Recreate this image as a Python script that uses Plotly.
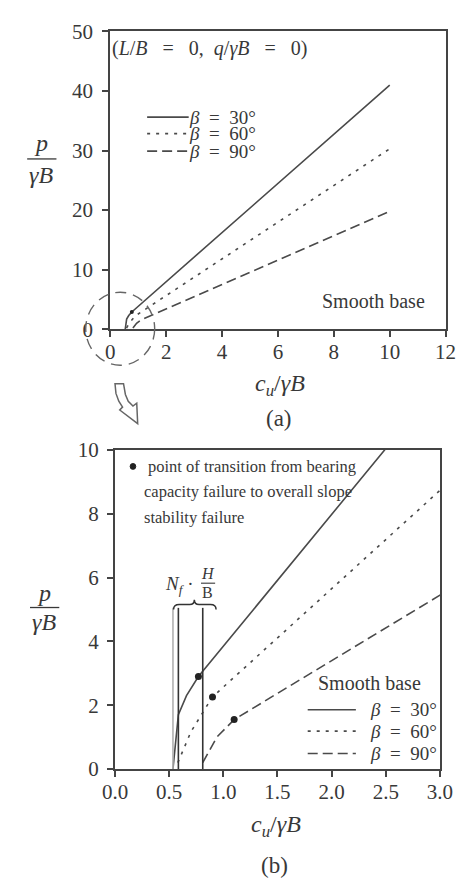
import plotly.graph_objects as go

# ---- data ----
cu_30 = [0.535, 0.56, 0.585, 0.66, 0.77, 10.0]
p_30 = [0.0, 0.9, 1.7, 2.3, 2.9, 41.0]
cu_60 = [0.58, 0.7, 0.81, 0.9, 10.0]
p_60 = [0.2, 1.16, 1.77, 2.26, 30.3]
cu_90 = [0.81, 0.94, 1.1, 10.0]
p_90 = [0.2, 1.0, 1.55, 19.8]

trans_cu = [0.77, 0.9, 1.1]
trans_p = [2.9, 2.26, 1.55]

# N_f * H/B marker lines
nf_x = [0.535, 0.585, 0.81]
nf_top = 5.05

W, H = 469, 891
TXT = "#383838"
AX = "#444444"
LINE = "#4a4a4a"
SERIF = "Liberation Serif"

DOT = "3px,6px"
DASH = "10px,5px"
SP = "&nbsp;&nbsp;"


def px(x, y):
    return x / W, 1 - y / H


fig = go.Figure()

series = [(cu_30, p_30, "solid"), (cu_60, p_60, DOT), (cu_90, p_90, DASH)]
for xa, ya in (("x", "y"), ("x2", "y2")):
    for cx, cy, dash in series:
        fig.add_trace(go.Scatter(x=cx, y=cy, mode="lines", xaxis=xa, yaxis=ya,
                                 line=dict(color=LINE, width=1.6, dash=dash),
                                 showlegend=False, hoverinfo="skip"))

# transition points
fig.add_trace(go.Scatter(x=trans_cu[:1], y=trans_p[:1], mode="markers", xaxis="x", yaxis="y",
                         marker=dict(color="#222", size=4), showlegend=False))
fig.add_trace(go.Scatter(x=trans_cu, y=trans_p, mode="markers", xaxis="x2", yaxis="y2",
                         marker=dict(color="#222", size=7), showlegend=False))

# vertical lines marking N_f * H/B
for i, xv in enumerate(nf_x):
    fig.add_trace(go.Scatter(x=[xv, xv], y=[0, nf_top], mode="lines", xaxis="x2", yaxis="y2",
                             line=dict(color="#b0b0b0" if i == 0 else "#333", width=1.6),
                             showlegend=False, hoverinfo="skip"))

axis_common = dict(showline=True, linecolor=AX, linewidth=2, mirror=True,
                   ticks="outside", ticklen=6, tickwidth=1.6, tickcolor=AX,
                   showgrid=False, zeroline=False,
                   tickfont=dict(family=SERIF, size=21, color=TXT))

fig.update_layout(
    width=W, height=H, margin=dict(l=0, r=0, t=0, b=0),
    paper_bgcolor="white", plot_bgcolor="white",
    xaxis=dict(domain=[103 / W, 458 / W], range=[0, 12], tickvals=list(range(0, 13, 2)),
               anchor="y", ticklabelstandoff=-3, **axis_common),
    yaxis=dict(domain=[1 - 326 / H, 1 - 20 / H], range=[0, 50], tickvals=list(range(0, 51, 10)),
               anchor="x", ticklabelstandoff=5, **axis_common),
    xaxis2=dict(domain=[108 / W, 452 / W], range=[0, 3], tickvals=[0, 0.5, 1, 1.5, 2, 2.5, 3],
                tickformat=".1f", anchor="y2", ticklabelstandoff=-3, **axis_common),
    yaxis2=dict(domain=[1 - 778 / H, 1 - 450 / H], range=[0, 10], tickvals=list(range(0, 11, 2)),
                anchor="x2", ticklabelstandoff=4, **axis_common),
)

ann = []
shapes = []


def text(x, y, s, size=18, xanchor="center", yanchor="middle"):
    xp, yp = px(x, y)
    ann.append(dict(x=xp, y=yp, xref="paper", yref="paper", text=s, showarrow=False,
                    xanchor=xanchor, yanchor=yanchor, borderpad=0,
                    font=dict(family=SERIF, size=size, color=TXT)))


def hline(x0, x1, y, dash="solid", color=LINE, width=1.6):
    a, b = px(x0, y)
    c, _ = px(x1, y)
    shapes.append(dict(type="line", xref="paper", yref="paper", x0=a, x1=c, y0=b, y1=b,
                       line=dict(color=color, width=width, dash=dash)))


def path(points_cmds, width=1.4, color="#555", fill=None):
    # one command letter per segment so every coordinate pair is kept
    parts = []
    for cmd, pts in points_cmds:
        coords = " ".join(f"{px(x, y)[0]:.5f},{px(x, y)[1]:.5f}" for x, y in pts)
        parts.append(f"{cmd}{coords}")
    shapes.append(dict(type="path", xref="paper", yref="paper", path=" ".join(parts) + (" Z" if fill else ""),
                       line=dict(color=color, width=width), fillcolor=fill or "rgba(0,0,0,0)"))


def polyline(pts):
    return [("M", [pts[0]])] + [("L", [p]) for p in pts[1:]]


# ---- panel (a) ----
SP3 = "&nbsp;&nbsp;&nbsp;"
text(104, 37, f"(<i>L</i>/<i>B</i>{SP3}={SP3}0,{SP}<i>q</i>/<i>γB</i>{SP3}={SP3}0)", 20, xanchor="left")
for yy, dash, lab in ((108, "solid", "30°"), (125, DOT, "60°"), (143, DASH, "90°")):
    hline(142, 186, yy, dash)
    text(185, yy, f"<i>β</i>{SP}={SP}{lab}", 19, xanchor="left")
text(326, 297, "Smooth base", 20, xanchor="left")

# dashed circle around the origin region
c0 = px(77, 363)
c1 = px(150, 288)
shapes.append(dict(type="circle", xref="paper", yref="paper", x0=c0[0], y0=c0[1], x1=c1[0], y1=c1[1],
                   line=dict(color="#666", width=1.4, dash="11px,7px")))

# y title fraction p / γB
text(30, 135, "<i>p</i>", 24)
hline(15, 46, 151, color=TXT, width=1.3)
text(30, 168, "<i>γB</i>", 24)
text(283, 383, "<i>c<sub>u</sub></i>/<i>γB</i>", 24)
text(282, 418, "(a)", 23)

# hollow curved arrow
path(polyline([(108, 382), (109, 392), (112, 400), (116, 406), (113, 409), (132, 423), (131, 402),
               (127, 405), (122, 400), (119, 393), (117, 382)]),
     width=1.5, color="#666", fill="white")

# ---- panel (b) ----
d0 = px(124, 464)
d1 = px(130, 470)
shapes.append(dict(type="circle", xref="paper", yref="paper", x0=d0[0], y0=d0[1], x1=d1[0], y1=d1[1],
                   line=dict(color="#222", width=1), fillcolor="#222"))
text(142, 467, "point of transition from bearing", 16.5, xanchor="left")
text(138, 493, "capacity failure to overall slope", 16.5, xanchor="left")
text(138, 519, "stability failure", 16.5, xanchor="left")

# N_f * H/B label with brace
text(176, 589, "<i>N<sub>f</sub></i> ·", 19)
text(206, 577, "<i>H</i>", 16)
hline(199, 214, 587, color=TXT, width=1.1)
text(206, 597, "B", 16)
path([("M", [(170, 614)]), ("Q", [(170, 609), (176, 609)]), ("L", [(187, 609)]),
      ("Q", [(192, 609), (192, 604)]), ("Q", [(192, 609), (197, 609)]), ("L", [(209, 609)]),
      ("Q", [(215, 609), (215, 614)])], width=1.5, color="#333")

text(377, 690, "Smooth base", 20)
for yy, dash, lab in ((717, "solid", "30°"), (739, DOT, "60°"), (762, DASH, "90°")):
    hline(312, 363, yy, dash)
    text(377, yy, f"<i>β</i>{SP}={SP}{lab}", 19, xanchor="left")

text(33, 597, "<i>p</i>", 24)
hline(18, 49, 612, color=TXT, width=1.3)
text(33, 627, "<i>γB</i>", 24)
text(278, 837, "<i>c<sub>u</sub></i>/<i>γB</i>", 24)
text(277, 877, "(b)", 23)

fig.update_layout(annotations=ann, shapes=shapes)
fig.write_html("out.html")
